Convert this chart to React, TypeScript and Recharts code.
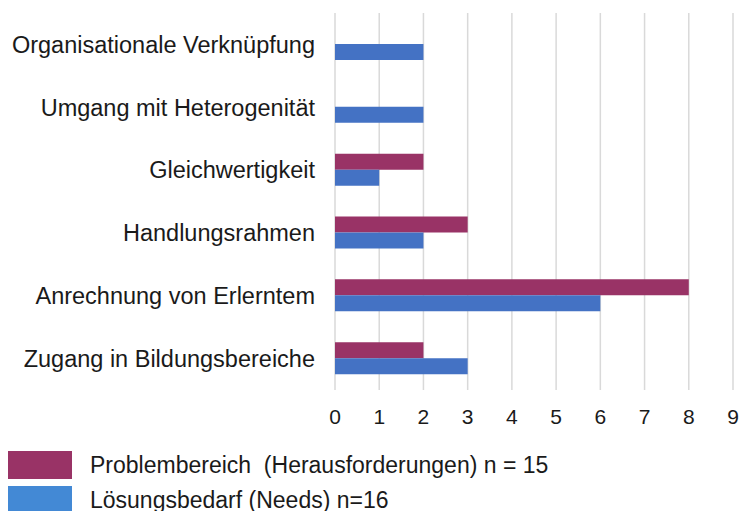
import { BarChart, Bar, XAxis, YAxis, CartesianGrid } from 'recharts'

const categories = [
  'Organisationale Verknüpfung',
  'Umgang mit Heterogenität',
  'Gleichwertigkeit',
  'Handlungsrahmen',
  'Anrechnung von Erlerntem',
  'Zugang in Bildungsbereiche',
]
const problemValues = [0, 0, 2, 3, 8, 2]
const needsValues = [2, 2, 1, 2, 6, 3]
const xTicks = [0, 1, 2, 3, 4, 5, 6, 7, 8, 9]

const SERIES = [
  { key: 'problem', label: 'Problembereich  (Herausforderungen) n = 15', fill: '#993366', swatch: '#993366' },
  { key: 'needs', label: 'Lösungsbedarf (Needs) n=16', fill: '#4472C4', swatch: '#4389D5' },
]

const data = categories.map((name, i) => ({
  name,
  problem: problemValues[i],
  needs: needsValues[i],
}))

const FONT = '"Liberation Sans", Arial, sans-serif'

export default function App() {
  return (
    <div
      style={{
        position: 'absolute',
        left: 0,
        top: 0,
        width: 739,
        height: 511,
        background: '#fff',
        fontFamily: FONT,
        overflow: 'hidden',
      }}
    >
      <BarChart
        width={739}
        height={430}
        data={data}
        layout="vertical"
        margin={{ top: 13, right: 6, left: 0, bottom: 0 }}
        barSize={16}
        barGap={0}
      >
        <CartesianGrid vertical horizontal={false} stroke="#D9D9D9" strokeWidth={1.5} />
        <XAxis
          type="number"
          domain={[0, 9]}
          ticks={xTicks}
          interval={0}
          axisLine={false}
          tickLine={false}
          tickMargin={13}
          height={40}
          tick={{ fill: '#1a1a1a', fontSize: 21, fontFamily: FONT }}
        />
        <YAxis
          type="category"
          dataKey="name"
          width={335}
          axisLine={false}
          tickLine={false}
          tickMargin={14}
          interval={0}
          tick={{ fill: '#1a1a1a', fontSize: 23.5, fontFamily: FONT }}
        />
        {SERIES.map((s) => (
          <Bar key={s.key} dataKey={s.key} fill={s.fill} isAnimationActive={false} />
        ))}
      </BarChart>

      <div style={{ position: 'absolute', left: 8, top: 448 }}>
        {SERIES.map((s) => (
          <div key={s.key} style={{ display: 'flex', alignItems: 'center', height: 33, marginBottom: 2 }}>
            <span
              style={{
                display: 'inline-block',
                flex: 'none',
                width: 64,
                height: 28,
                background: s.swatch,
              }}
            />
            <span
              style={{
                marginLeft: 18,
                fontSize: 23,
                lineHeight: '26px',
                color: '#1a1a1a',
                whiteSpace: 'pre',
              }}
            >
              {s.label}
            </span>
          </div>
        ))}
      </div>
    </div>
  )
}
